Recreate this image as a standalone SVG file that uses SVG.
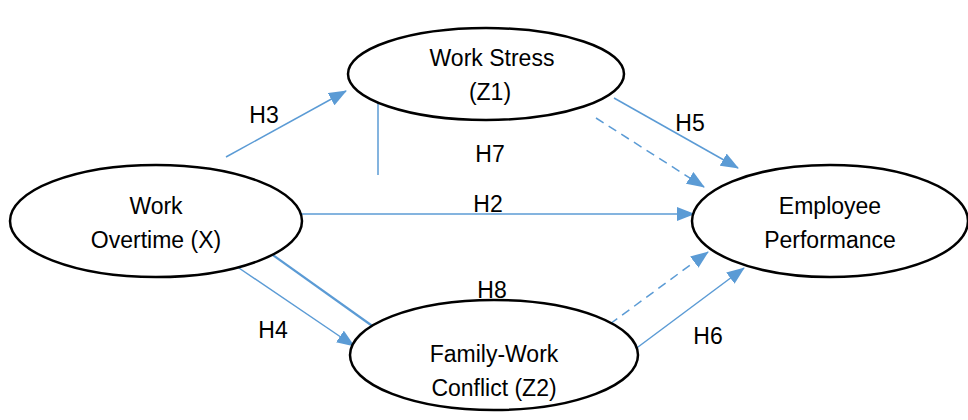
<svg xmlns="http://www.w3.org/2000/svg" width="968" height="420" viewBox="0 0 968 420">
<defs>
<style>
.node{fill:#fff;stroke:#000;stroke-width:2.5}
.t{font-family:"Liberation Sans",Arial,sans-serif;font-size:23px;fill:#000;text-anchor:middle}
.c{stroke:#5b9bd5;stroke-width:1.5;fill:none}
.d{stroke-dasharray:9 6}
</style>
<marker id="b" markerWidth="18" markerHeight="14" refX="17" refY="7" orient="auto" markerUnits="userSpaceOnUse">
<path d="M0,0 L18,7 L0,14 Z" fill="#5b9bd5"/>
</marker>
</defs>
<g id="connectors">
<line class="c" x1="226" y1="157" x2="346" y2="91" marker-end="url(#b)"/>
<line class="c" x1="378" y1="102" x2="378" y2="175"/>
<line class="c" x1="614" y1="98" x2="738" y2="168" marker-end="url(#b)"/>
<line class="c d" x1="596" y1="118" x2="704" y2="187" marker-end="url(#b)"/>
<line class="c" x1="301" y1="214" x2="694" y2="214" marker-end="url(#b)"/>
<line class="c" x1="236" y1="266" x2="354" y2="346" marker-end="url(#b)"/>
<line class="c" x1="270" y1="253" x2="378" y2="330" style="stroke-width:2.2"/>
<line class="c" x1="634" y1="350" x2="744" y2="268" marker-end="url(#b)"/>
<line class="c d" x1="610" y1="324" x2="708" y2="252" marker-end="url(#b)"/>
</g>
<g id="labels">
<text class="t" x="264" y="123">H3</text>
<text class="t" x="490" y="162">H7</text>
<text class="t" x="488" y="212">H2</text>
<text class="t" x="690" y="131">H5</text>
<text class="t" x="492" y="298">H8</text>
<text class="t" x="273" y="338">H4</text>
<text class="t" x="708" y="344">H6</text>
</g>
<g id="work-stress">
<ellipse class="node" cx="486" cy="74" rx="138" ry="46"/>
<text class="t" x="492" y="66">Work Stress</text>
<text class="t" x="490" y="100">(Z1)</text>
</g>
<g id="work-overtime">
<ellipse class="node" cx="156" cy="221" rx="146" ry="56"/>
<text class="t" x="156" y="214">Work</text>
<text class="t" x="156" y="248">Overtime (X)</text>
</g>
<g id="employee-performance">
<ellipse class="node" cx="830" cy="221" rx="138" ry="56"/>
<text class="t" x="830" y="214">Employee</text>
<text class="t" x="830" y="248">Performance</text>
</g>
<g id="family-work-conflict">
<ellipse class="node" cx="494" cy="355" rx="144" ry="55"/>
<text class="t" x="494" y="362">Family-Work</text>
<text class="t" x="494" y="396">Conflict (Z2)</text>
</g>
</svg>
